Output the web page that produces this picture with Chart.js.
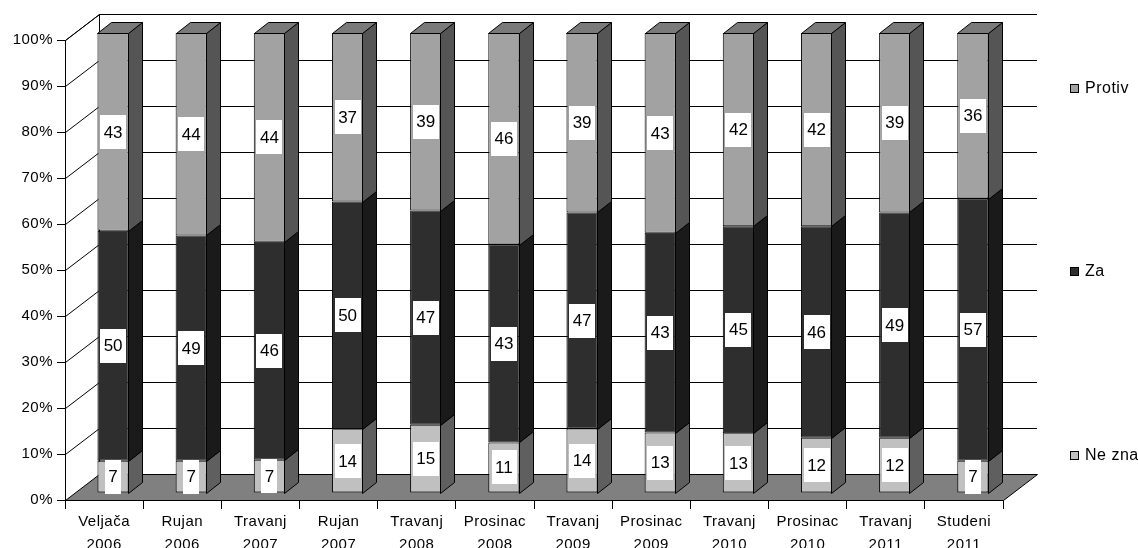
<!DOCTYPE html>
<html>
<head>
<meta charset="utf-8">
<script src="https://cdn.jsdelivr.net/npm/chart.js@4/dist/chart.umd.min.js"></script>
<style>
html,body{margin:0;padding:0;background:#fff;}
#wrap{width:1138px;height:548px;}
</style>
</head>
<body>
<div id="wrap"><canvas id="c" width="1138" height="548"></canvas></div>
<script>
const categories = [["Veljača","2006"],["Rujan","2006"],["Travanj","2007"],["Rujan","2007"],["Travanj","2008"],["Prosinac","2008"],["Travanj","2009"],["Prosinac","2009"],["Travanj","2010"],["Prosinac","2010"],["Travanj","2011"],["Studeni","2011"]];
const seriesNames = ["Ne zna","Za","Protiv"];
const neZna  = [7,7,7,14,15,11,14,13,13,12,12,7];
const za     = [50,49,46,50,47,43,47,43,45,46,49,57];
const protiv = [43,44,44,37,39,46,39,43,42,42,39,36];
const yTickValues = [0,10,20,30,40,50,60,70,80,90,100];

const totals = categories.map((_, i) => neZna[i] + za[i] + protiv[i]);
const pct = arr => arr.map((v, i) => v / totals[i] * 100);

const FONT = '"Liberation Sans", Arial, sans-serif';
const BACK = {dx: 34, dy: -26};
const BAR_OFF = {dx: 9, dy: -7};
const BAR_DEPTH = {dx: 14, dy: -11};

const faceColors = ['#c0c0c0', '#2e2e2e', '#a2a2a2'];
const sideColors = ['#5f5f5f', '#1a1a1a', '#555555'];
const topColor = '#7a7a7a';

function poly(ctx, pts, fill) {
  ctx.beginPath();
  ctx.moveTo(pts[0][0], pts[0][1]);
  for (let k = 1; k < pts.length; k++) ctx.lineTo(pts[k][0], pts[k][1]);
  ctx.closePath();
  if (fill) { ctx.fillStyle = fill; ctx.fill(); }
  ctx.stroke();
}

const threeD = {
  id: 'threeD',
  beforeDraw(chart) {
    chart.ctx.letterSpacing = '0.5px';
  },
  beforeDatasetsDraw(chart) {
    const ctx = chart.ctx;
    const a = chart.chartArea;
    const ys = chart.scales.y;
    ctx.save();
    ctx.strokeStyle = '#000';
    ctx.lineWidth = 1;
    const yTop = ys.getPixelForValue(100);
    const y0 = ys.getPixelForValue(0);
    ctx.beginPath();
    ctx.moveTo(a.left + 0.5, yTop + 0.5);
    ctx.lineTo(a.left + BACK.dx + 0.5, yTop + BACK.dy + 0.5);
    ctx.lineTo(a.right + BACK.dx, yTop + BACK.dy + 0.5);
    ctx.moveTo(a.left + BACK.dx + 0.5, yTop + BACK.dy);
    ctx.lineTo(a.left + BACK.dx + 0.5, y0 + BACK.dy);
    ctx.stroke();
    yTickValues.forEach(v => {
      if (v === 0) return;
      const y = Math.round(ys.getPixelForValue(v)) + 0.5;
      ctx.beginPath();
      ctx.moveTo(a.left + 0.5, y);
      ctx.lineTo(a.left + BACK.dx + 0.5, y + BACK.dy);
      ctx.lineTo(a.right + BACK.dx, y + BACK.dy);
      ctx.stroke();
    });
    poly(ctx, [[a.left + 0.5, y0 + 0.5], [a.right + 0.5, y0 + 0.5], [a.right + BACK.dx + 0.5, y0 + BACK.dy + 0.5], [a.left + BACK.dx + 0.5, y0 + BACK.dy + 0.5]], '#808080');
    ctx.restore();
    ctx.save();
    ctx.translate(BAR_OFF.dx, BAR_OFF.dy);
  },
  afterDatasetsDraw(chart) {
    const ctx = chart.ctx;
    ctx.strokeStyle = '#000';
    ctx.lineWidth = 1;
    const nDs = chart.data.datasets.length;
    for (let d = 0; d < nDs; d++) {
      const meta = chart.getDatasetMeta(d);
      meta.data.forEach(el => {
        const r = Math.round(el.x + el.width / 2) - 0.5;
        const l = Math.round(el.x - el.width / 2) + 0.5;
        const t = Math.round(el.y) + 0.5;
        const b = Math.round(el.base) + 0.5;
        poly(ctx, [[r, t], [r + BAR_DEPTH.dx, t + BAR_DEPTH.dy], [r + BAR_DEPTH.dx, b + BAR_DEPTH.dy], [r, b]], sideColors[d]);
        if (d === nDs - 1) {
          poly(ctx, [[l, t], [l + BAR_DEPTH.dx, t + BAR_DEPTH.dy], [r + BAR_DEPTH.dx, t + BAR_DEPTH.dy], [r, t]], topColor);
        }
      });
    }
    ctx.font = '17px ' + FONT;
    ctx.letterSpacing = '0px';
    ctx.textAlign = 'center';
    ctx.textBaseline = 'middle';
    for (let d = 0; d < nDs; d++) {
      const meta = chart.getDatasetMeta(d);
      const raw = chart.data.datasets[d].rawValues;
      meta.data.forEach((el, j) => {
        const txt = String(raw[j]);
        const w = ctx.measureText(txt).width + 7;
        const h = 34;
        const cx = el.x;
        const cy = (el.y + el.base) / 2;
        ctx.fillStyle = '#fff';
        ctx.fillRect(Math.round(cx - w / 2), Math.round(cy - h / 2), Math.round(w), h);
        ctx.fillStyle = '#000';
        ctx.fillText(txt, cx, cy + 1);
      });
    }
    ctx.restore();
  },
  afterDraw(chart) {
    const ctx = chart.ctx;
    ctx.save();
    ctx.font = '16px ' + FONT;
    ctx.letterSpacing = '0.5px';
    ctx.textAlign = 'left';
    ctx.textBaseline = 'middle';
    const legendY = [455, 271, 88];
    chart.data.datasets.forEach((ds, d) => {
      const y = legendY[d];
      ctx.fillStyle = faceColors[d];
      ctx.fillRect(1070, y - 4, 9, 9);
      ctx.strokeStyle = '#000';
      ctx.lineWidth = 1;
      ctx.strokeRect(1070.5, y - 3.5, 8, 8);
      ctx.fillStyle = '#000';
      ctx.fillText(ds.label, 1085, y + 1);
    });
    ctx.restore();
  }
};

const datasets = [neZna, za, protiv].map((arr, d) => ({
  label: seriesNames[d],
  data: pct(arr),
  rawValues: arr,
  backgroundColor: faceColors[d],
  borderColor: '#000',
  borderWidth: 1,
  borderSkipped: false,
  barPercentage: 0.4,
  categoryPercentage: 1.0,
  clip: false
}));

new Chart(document.getElementById('c'), {
  type: 'bar',
  data: { labels: categories, datasets },
  options: {
    responsive: false,
    animation: false,
    devicePixelRatio: 1,
    layout: { padding: { left: 0, right: 135, top: 40, bottom: 0 } },
    plugins: { legend: { display: false }, tooltip: { enabled: false } },
    scales: {
      x: {
        stacked: true,
        afterFit(s) { s.height = 48; },
        grid: { display: true, drawOnChartArea: false, drawTicks: true, tickLength: 9, color: '#000', offset: true },
        border: { display: true, color: '#000' },
        ticks: { color: '#000', font: { family: FONT, size: 15, lineHeight: 1.5 }, padding: 2, maxRotation: 0, autoSkip: false }
      },
      y: {
        stacked: true,
        min: 0, max: 100,
        afterFit(s) { s.width = 65; },
        afterBuildTicks(s) { s.ticks = yTickValues.map(v => ({ value: v })); },
        grid: { display: true, drawOnChartArea: false, drawTicks: true, tickLength: 8, color: '#000' },
        border: { display: true, color: '#000' },
        ticks: { color: '#000', font: { family: FONT, size: 15 }, padding: 4, callback: v => v + '%' }
      }
    }
  },
  plugins: [threeD]
});
</script>
</body>
</html>
